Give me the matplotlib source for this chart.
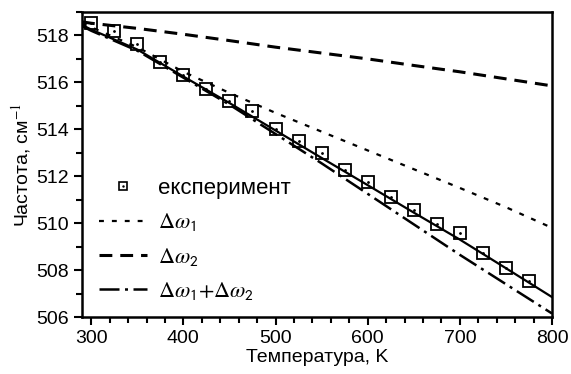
import numpy as np
import matplotlib
matplotlib.use('Agg')
import matplotlib.pyplot as plt
from matplotlib.ticker import MultipleLocator
from matplotlib.lines import Line2D
from matplotlib.legend_handler import HandlerTuple

plt.rcParams['font.family'] = ['Liberation Sans', 'DejaVu Sans']
plt.rcParams['mathtext.fontset'] = 'stix'

# experiment
T_exp = [300, 325, 350, 375, 400, 425, 450, 475, 500, 525, 550, 575,
         600, 625, 650, 675, 700, 725, 750, 775]
w_exp = [518.55, 518.17, 517.62, 516.85, 516.30, 515.70, 515.19, 514.77,
         514.00, 513.50, 513.00, 512.26, 511.75, 511.10, 510.55, 509.96,
         509.57, 508.72, 508.08, 507.53]

# model curves
T_fit = [290, 300, 350, 400, 450, 500, 550, 600, 650, 700, 750, 800]
w_fit = [518.45, 518.25, 517.40, 516.25, 515.12, 513.95, 512.78, 511.62,
         510.45, 509.30, 508.08, 506.85]
w_d1 = [518.50, 518.35, 517.50, 516.45, 515.55, 514.70, 513.90, 513.10,
        512.30, 511.50, 510.68, 509.80]
w_d2 = [518.58, 518.52, 518.30, 518.05, 517.78, 517.50, 517.25, 517.00,
        516.72, 516.45, 516.15, 515.85]
w_sum = [518.40, 518.20, 517.35, 516.20, 515.05, 513.80, 512.55, 511.25,
         509.95, 508.65, 507.40, 506.15]

labels = ['експеримент', r'$\Delta\omega_{\mathsf{1}}$', r'$\Delta\omega_{\mathsf{2}}$',
          r'$\Delta\omega_{\mathsf{1}}\mathsf{+}\Delta\omega_{\mathsf{2}}$']

fig = plt.figure(figsize=(5.71, 3.74), dpi=100)
ax = fig.add_axes([0.1436, 0.1524, 0.8231, 0.8156])

ax.plot(T_fit, w_fit, '-', color='k', lw=1.6)
l1, = ax.plot(T_fit, w_d1, color='k', lw=1.6, dashes=(2.2, 3.6))
l2, = ax.plot(T_fit, w_d2, color='k', lw=2.2, dashes=(4.2, 2.6))
l3, = ax.plot(T_fit, w_sum, color='k', lw=1.8, dashes=(8, 2.2, 1.2, 2.2))
ax.plot(T_exp, w_exp, 's', ms=8, mfc='none', mec='k', mew=1.3)
ax.plot(T_exp, w_exp, '.', ms=2, color='k')

# small marker for the legend
sq = Line2D([], [], ls='none', marker='s', ms=6, mfc='none', mec='k', mew=1.2)
dt = Line2D([], [], ls='none', marker='.', ms=1.5, color='k')

ax.set_xlim(290, 800)
ax.set_ylim(506, 519)
ax.xaxis.set_major_locator(MultipleLocator(100))
ax.xaxis.set_minor_locator(MultipleLocator(20))
ax.yaxis.set_major_locator(MultipleLocator(2))
ax.yaxis.set_minor_locator(MultipleLocator(1))
ax.tick_params(which='both', direction='out', width=1.5, labelsize=14,
               top=False, right=False)
ax.tick_params(which='major', length=6)
ax.tick_params(which='minor', length=4)
for s in ax.spines.values():
    s.set_linewidth(1.8)

ax.set_xlabel('Температура, K', fontsize=14, labelpad=1)
ax.set_ylabel('Частота, см$^{-1}$', fontsize=14, labelpad=2)

leg = ax.legend([(sq, dt), l1, l2, l3], labels,
                handler_map={tuple: HandlerTuple(ndivide=1)},
                loc='lower left', bbox_to_anchor=(0.036, 0.05),
                frameon=False, fontsize=16, handlelength=2.15,
                labelspacing=0.55, handletextpad=0.5,
                borderpad=0, borderaxespad=0)

fig.savefig('out.png', dpi=100)
